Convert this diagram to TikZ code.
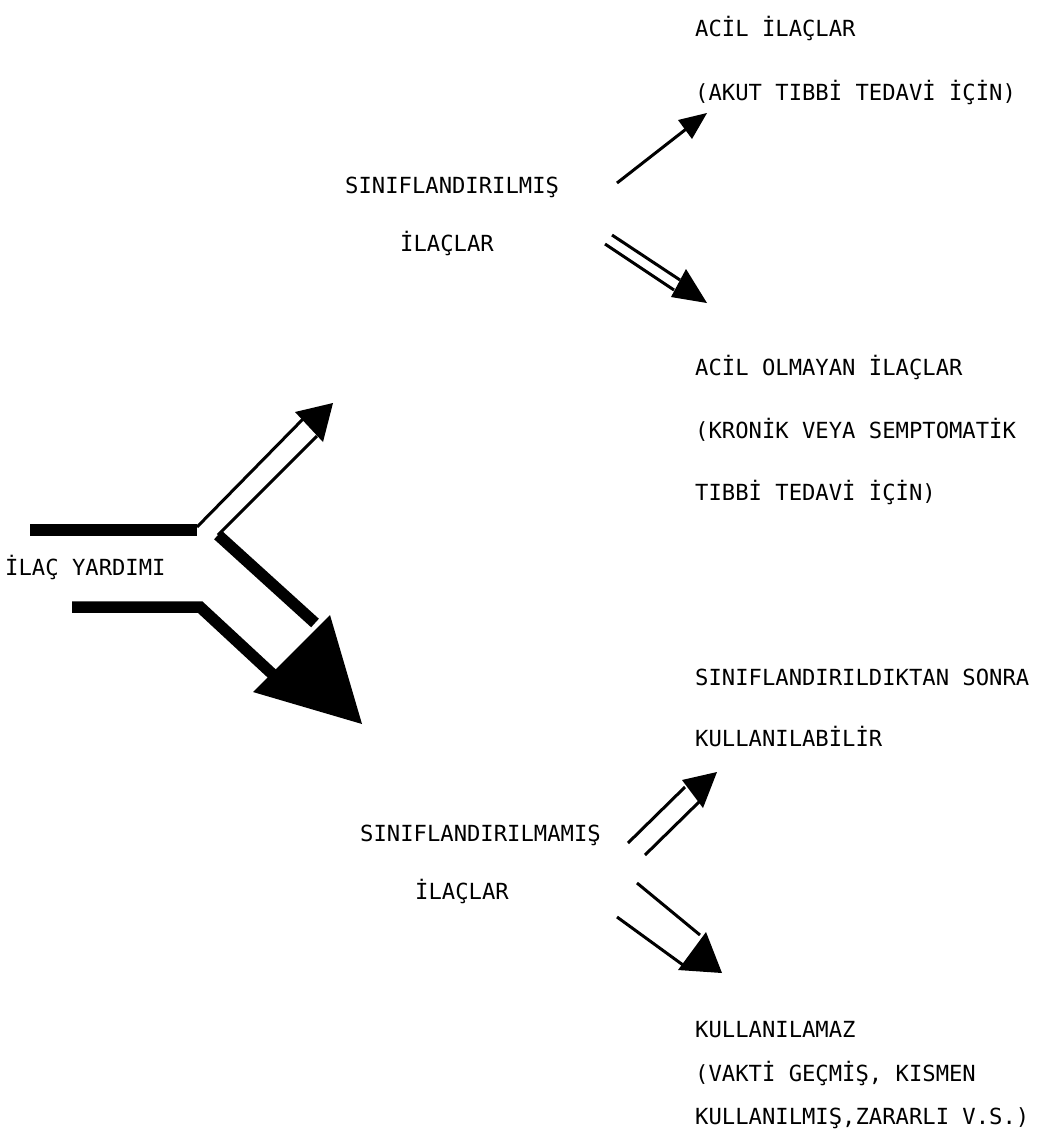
\documentclass[tikz,border=0pt]{standalone}
\usepackage{fontspec}
\newfontfamily\typefont{DejaVu Sans Mono}
\begin{document}
\begin{tikzpicture}[x=1pt,y=-1pt,line join=miter,
  lbl/.style={font=\typefont\fontsize{22.2}{26}\selectfont,anchor=base west,inner sep=0pt},
  pipe/.style={line width=3pt},
  bar/.style={line width=11.5pt},
  head/.style={fill=black}]
\useasboundingbox (0,0) rectangle (1048,1133);
% texts
\node[lbl] (yardim) at (5,575) {İLAÇ YARDIMI};
\node[lbl] (sinif) at (345,193) {SINIFLANDIRILMIŞ};
\node[lbl] (sinifilac) at (400,251) {İLAÇLAR};
\node[lbl] (acil) at (695,36) {ACİL İLAÇLAR};
\node[lbl] (akut) at (695,100) {(AKUT TIBBİ TEDAVİ İÇİN)};
\node[lbl] (acilolm) at (695,375) {ACİL OLMAYAN İLAÇLAR};
\node[lbl] (kronik) at (695,438) {(KRONİK VEYA SEMPTOMATİK};
\node[lbl] (tibbi) at (695,500) {TIBBİ TEDAVİ İÇİN)};
\node[lbl] (sonra) at (695,685) {SINIFLANDIRILDIKTAN SONRA};
\node[lbl] (kullabil) at (695,746) {KULLANILABİLİR};
\node[lbl] (sinifmam) at (360,841) {SINIFLANDIRILMAMIŞ};
\node[lbl] (mamilac) at (415,899) {İLAÇLAR};
\node[lbl] (kullamaz) at (695,1037) {KULLANILAMAZ};
\node[lbl] (vakti) at (695,1081) {(VAKTİ GEÇMİŞ, KISMEN};
\node[lbl] (zararli) at (695,1124) {KULLANILMIŞ,ZARARLI V.S.)};
% main branching
\coordinate (fork) at (218,535);
\draw[bar] (30,530) -- (197,530);
\draw[pipe] (197,527) -- (303,419);
\draw[pipe] (fork) -- (317,436);
\fill[head] (295,412) -- (333,403) -- (323,442) -- cycle;
\draw[bar] (fork) -- (315,623);
\draw[bar] (72,607) -- (200,607) -- (282,683);
\fill[head] (330,615) -- (362,724) -- (253,692) -- cycle;
% classified
\coordinate (a1s) at (617,183);
\coordinate (a1t) at (690,126);
\draw[pipe] (a1s) -- (a1t);
\fill[head] (678,120) -- (707,113) -- (692,139) -- cycle;
\draw[pipe] (612,235) -- (680,280);
\draw[pipe] (605,244) -- (674,290);
\fill[head] (686,269) -- (707,303) -- (671,297) -- cycle;
% unclassified
\draw[pipe] (628,843) -- (685,787);
\draw[pipe] (645,855) -- (700,801);
\fill[head] (682,780) -- (717,772) -- (703,808) -- cycle;
\draw[pipe] (637,883) -- (700,935);
\draw[pipe] (617,917) -- (683,965);
\fill[head] (706,932) -- (722,973) -- (678,970) -- cycle;
\end{tikzpicture}
\end{document}
